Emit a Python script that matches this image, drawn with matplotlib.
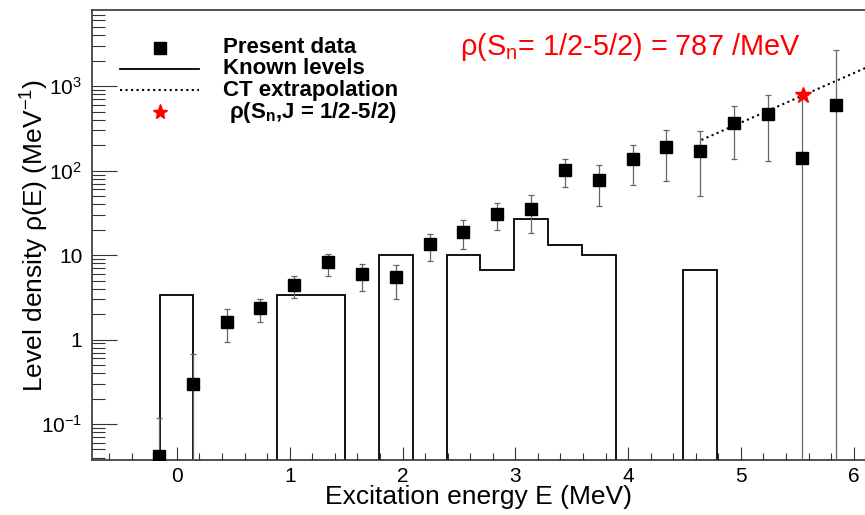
import numpy as np
import matplotlib
matplotlib.use("Agg")
import matplotlib.pyplot as plt
from matplotlib.ticker import MultipleLocator, LogLocator, FuncFormatter, NullFormatter

plt.rcParams['font.family'] = ['Liberation Sans', 'DejaVu Sans']
plt.rcParams['mathtext.fontset'] = 'custom'
plt.rcParams['mathtext.rm'] = 'Liberation Sans'
plt.rcParams['mathtext.it'] = 'Liberation Sans:italic'
plt.rcParams['mathtext.bf'] = 'Liberation Sans:bold'

# present data (Oslo method level density)
pts_e = [-0.16, 0.14, 0.44, 0.74, 1.04, 1.34, 1.64, 1.94, 2.24, 2.54, 2.84,
         3.14, 3.44, 3.74, 4.04, 4.34, 4.64, 4.94, 5.24, 5.54, 5.84]
pts_rho = [0.042, 0.30, 1.62, 2.39, 4.47, 8.2, 5.9, 5.5, 13.5, 19.0, 30.8,
           35.3, 102, 78, 136, 192, 172, 364, 465, 141, 594]
pts_lo = [0, 0, 0.94, 1.62, 3.1, 5.7, 3.75, 3.05, 8.6, 11.8, 19.9,
          18.5, 63.8, 38.2, 68.2, 76.2, 50, 136, 129, 0, 0]
pts_hi = [0.117, 0.67, 2.28, 3.06, 5.66, 10.2, 7.9, 7.7, 18.0, 26.2, 41.2,
          51.3, 136, 116, 203, 300, 295, 578, 793, 800, 2680]

# known discrete levels, binned
hist_edges = [-0.15, 0.145, 0.89, 1.49, 1.79, 2.09, 2.39, 2.69, 2.99, 3.29, 3.59, 3.89, 4.49, 4.79]
hist_rho = [3.33, 0, 3.33, 0, 10, 0, 10, 6.67, 26.7, 13.3, 10, 0, 6.67]

# constant-temperature extrapolation (end points)
ct_e = [4.65, 6.2]
ct_rho = [231, 1870]

# rho at Sn
sn_e = [5.55]
sn_rho = [787]

FLOOR = 1e-4

fig = plt.figure(figsize=(8.65, 5.15), dpi=100)
ax = fig.add_axes([92 / 865, 55 / 515, 773 / 865, 450 / 515])

vals = np.array(hist_rho, dtype=float)
ax.stairs(np.where(vals > 0, vals, FLOOR), hist_edges, baseline=FLOOR,
          color='k', lw=1.3, zorder=2)

rho = np.array(pts_rho)
lo = np.maximum(np.array(pts_lo), FLOOR)
hi = np.array(pts_hi)
ax.errorbar(pts_e, rho, yerr=[rho - lo, hi - rho], fmt='s', color='k', ms=9,
            ecolor='#666666', elinewidth=0.9, capsize=2.5, capthick=0.9, zorder=3)

ax.plot(ct_e, ct_rho, color='k', ls=':', lw=1.5, zorder=2)
ax.plot(sn_e, sn_rho, marker='*', color='red', ms=12, ls='none', zorder=4)

ax.set_yscale('log')
ax.set_xlim(-0.753, 6.10)
ax.set_ylim(0.0375, 7980)

ax.xaxis.set_major_locator(MultipleLocator(1))
ax.xaxis.set_minor_locator(MultipleLocator(0.2))
ax.yaxis.set_major_locator(LogLocator(base=10))
ax.yaxis.set_minor_locator(LogLocator(base=10, subs=np.arange(2, 10)))
ax.yaxis.set_minor_formatter(NullFormatter())
ylabels = {0.1: '$10^{-1}$', 1: '1', 10: '10', 100: '$10^{2}$', 1000: '$10^{3}$'}
ax.yaxis.set_major_formatter(FuncFormatter(
    lambda v, p: ylabels.get(round(v, 3), '')))

ax.tick_params(which='both', direction='in', top=False, right=False,
               width=0.8, color='#333333', labelsize=15)
ax.tick_params(axis='y', which='major', length=18, pad=7)
ax.tick_params(axis='y', which='minor', length=9.4)
ax.tick_params(axis='x', which='major', length=9.4, pad=5)
ax.tick_params(axis='x', which='minor', length=5)

for s in ['left', 'bottom', 'top']:
    ax.spines[s].set_color('#333333')
    ax.spines[s].set_linewidth(1.2)
ax.spines['right'].set_visible(False)

ax.set_xlabel('Excitation energy E (MeV)', fontsize=19)
ax.xaxis.set_label_coords(0.5, -0.082)
ax.xaxis.label.set_va('center')
ax.set_ylabel('Level density \u03c1(E) (MeV$^{\\mathregular{-1}}$)', fontsize=19)
ax.yaxis.set_label_coords(-0.074, 0.5)
ax.yaxis.label.set_va('center')

# legend, ROOT style
tx = 0.1695
rows = [0.9156, 0.8689, 0.8222, 0.7733]
ax.plot([0.088], [rows[0]], 's', color='k', ms=9, transform=ax.transAxes)
ax.plot([0.0362, 0.1384], [rows[1]] * 2, color='k', lw=1.3, transform=ax.transAxes)
ax.plot([0.0362, 0.1384], [rows[2]] * 2, color='k', ls=':', lw=1.5, transform=ax.transAxes)
ax.plot([0.088], [rows[3]], '*', color='red', ms=11, transform=ax.transAxes)
labels = ['Present data', 'Known levels', 'CT extrapolation',
          ' \u03c1(S$_\\mathregular{n}$,J = 1/2-5/2)']
for y, t in zip(rows, labels):
    ax.text(tx, y, t, transform=ax.transAxes, fontsize=16, fontweight='bold',
            ha='left', va='center')

ax.text(0.476, 0.918, '\u03c1(S$_\\mathregular{n}$= 1/2-5/2) = 787 /MeV',
        transform=ax.transAxes, color='red', fontsize=20.8, ha='left', va='center')

fig.savefig('out.png', dpi=100)
